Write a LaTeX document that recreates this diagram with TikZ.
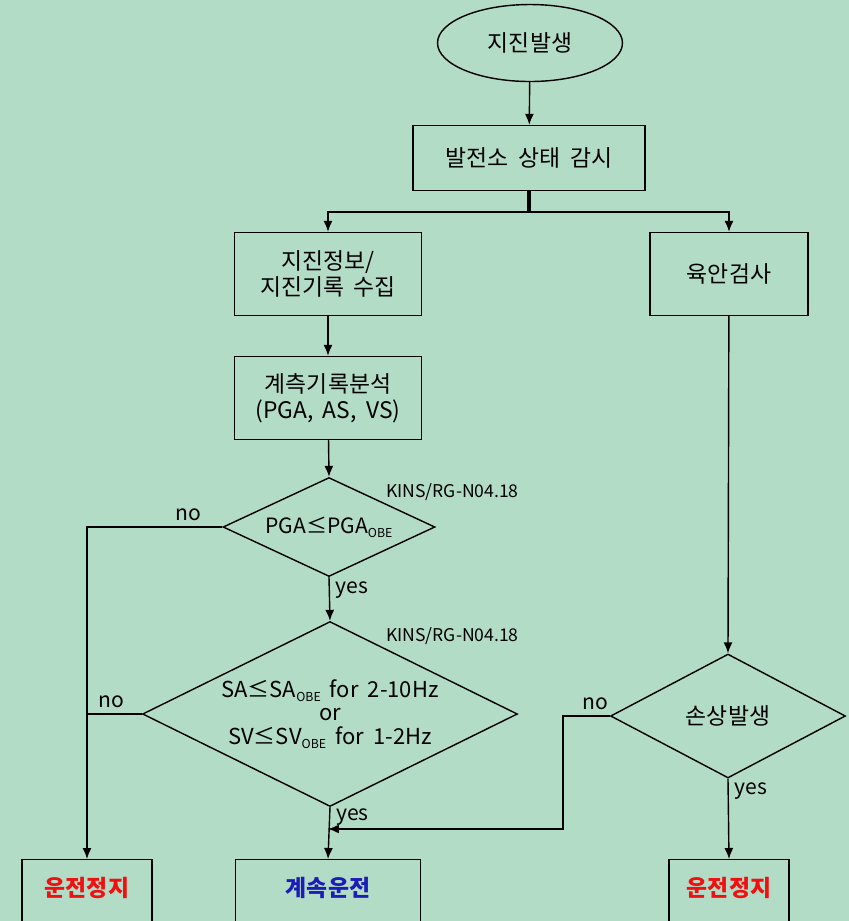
\documentclass[tikz,border=0pt]{standalone}
\usepackage{fontspec}
\setmainfont{Noto Sans CJK KR}
\usetikzlibrary{arrows.meta,shapes.geometric,positioning}
\definecolor{QuakeBg}{HTML}{B3DCC7}
\definecolor{QuakeRed}{HTML}{F01010}
\definecolor{QuakeBlue}{HTML}{1C1CB8}
\newcommand{\wsp}{\hspace{.42em}}
\newcommand{\obe}{\raisebox{-.35ex}{\fontsize{7}{7}\selectfont OBE}}

\begin{document}
\begin{tikzpicture}[
  x=0.02cm,y=-0.02cm,font=\fontsize{13}{15}\selectfont,>=Latex,
  flow/.style={-{Latex[length=2.2mm,width=1.8mm]},draw=black,line width=0.8pt},
  wire/.style={draw=black,line width=0.8pt},
  box/.style={draw=black,line width=0.8pt,minimum width=3.74cm,minimum height=1.66cm,
    align=center,inner sep=2pt},
  endbox/.style={box,anchor=north,inner ysep=0.36cm,text depth=1cm,minimum height=0pt,
    font=\fontsize{13}{15}\selectfont\bfseries},
  decision/.style={diamond,draw=black,line width=0.8pt,inner sep=0pt},
  tag/.style={font=\fontsize{12}{13}\selectfont},
  ref/.style={font=\fontsize{10}{11}\selectfont,anchor=west}
]
\useasboundingbox (0,0) rectangle (849,921);
\fill[QuakeBg] (0,0) rectangle (849,921);
\clip (0,0) rectangle (849,921);

% top of the chart
\node[ellipse,draw=black,line width=0.8pt,minimum width=3.7cm,minimum height=1.54cm]
  (quake) at (530,43) {지진발생};
\node[box,minimum width=4.64cm,minimum height=1.3cm] (monitor) at (529,158)
  {발전소\wsp 상태\wsp 감시};
\coordinate (split) at (529,212);

% left branch
\node[box] (collect) at (328,274) {지진정보/\\지진기록\wsp 수집};
\node[box] (analyze) at (328,398) {계측기록분석\\(PGA,\wsp AS,\wsp VS)};
\node[decision,minimum width=4.24cm,minimum height=1.98cm] (pga) at (329,527) {};
\node[tag] (pgatxt) at (pga) {PGA≤PGA\obe};
\node[decision,minimum width=7.5cm,minimum height=3.7cm] (spec) at (330,714) {};
\node[tag,align=center,font=\fontsize{12.5}{13.5}\selectfont] (spectxt) at (spec)
  {SA≤SA\obe\wsp for\wsp 2-10Hz\\or\\SV≤SV\obe\wsp for\wsp 1-2Hz};
\node[ref] (ref1) at (380,492) {KINS/RG-N04.18};
\node[ref] (ref2) at (380,636) {KINS/RG-N04.18};

% right branch
\node[box,minimum width=3.16cm] (visual) at (729,274) {육안검사};
\node[decision,minimum width=4.7cm,minimum height=2.48cm] (damage) at (728,716) {};
\node (damagetxt) at (damage) {손상발생};

% outcomes
\node[endbox,minimum width=2.6cm,text=QuakeRed] (stopleft) at (87,859) {운전정지};
\node[endbox,minimum width=3.7cm,text=QuakeBlue] (keepon) at (328,859) {계속운전};
\node[endbox,minimum width=2.4cm,text=QuakeRed] (stopright) at (729,859) {운전정지};
\coordinate (merge) at (328,829);

% connectors
\draw[flow] (quake) -- (monitor);
\draw[wire,line width=2pt] (monitor.south) -- (split);
\draw[flow] (split) -| (collect.north);
\draw[flow] (split) -| (visual.north);
\draw[flow] (collect) -- (analyze);
\draw[flow] (analyze) -- (pga.north);
\draw[flow] (pga.south) -- node[tag,right,pos=0.3] {yes} (spec.north);
\draw[flow] (spec.south) -- node[tag,right,pos=0.2] {yes} (keepon.north);
\draw[flow] (pga.west) -- node[tag,above,pos=0.25] {no} (pga.west -| stopleft) -- (stopleft.north);
\draw[wire] (spec.west) -- node[tag,above,pos=0.55] {no} (spec.west -| stopleft);
\draw[flow] (visual) -- (damage.north);
\draw[flow] (damage.south) -- node[tag,right,pos=0.15] {yes} (stopright.north);
\draw[flow] (damage.west) -- node[tag,above,pos=0.3] {no} ++(-47,0) |- (merge);

\end{tikzpicture}
\end{document}
